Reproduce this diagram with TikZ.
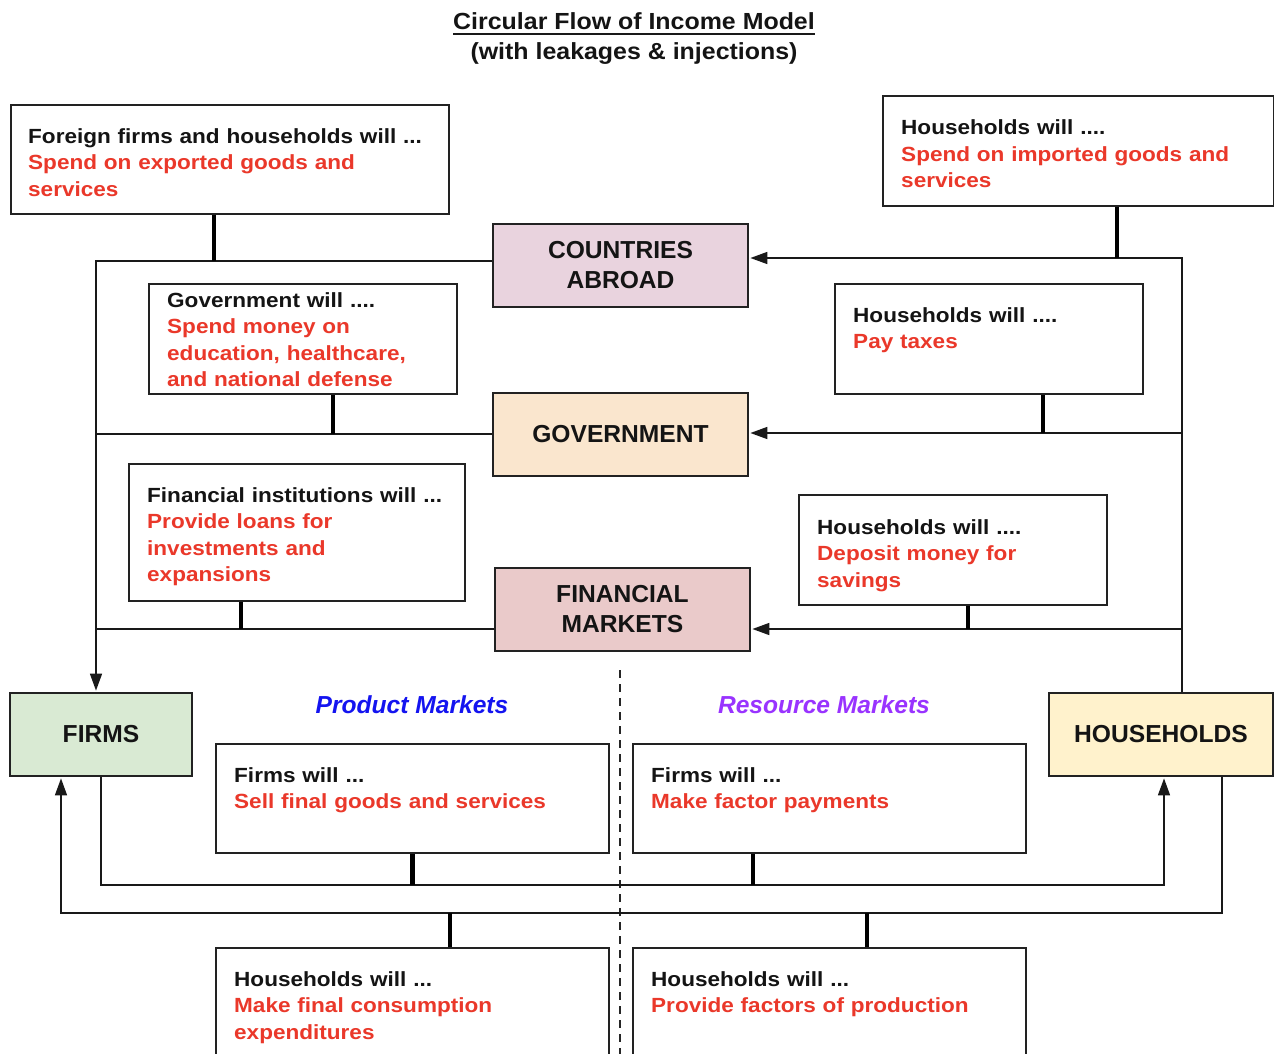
\documentclass[tikz,border=0pt]{standalone}
\usepackage{fontspec}
\setmainfont{Liberation Sans}
\newfontfamily\bodyf[FakeStretch=1.1]{Liberation Sans}
\newfontfamily\titf[FakeStretch=1.07]{Liberation Sans}
\usetikzlibrary{arrows.meta}
\definecolor{txtred}{RGB}{234,56,42}
\definecolor{pmblue}{RGB}{20,20,240}
\definecolor{rmpurple}{RGB}{153,51,255}
\definecolor{cpink}{RGB}{233,211,222}
\definecolor{gpeach}{RGB}{250,230,206}
\definecolor{frose}{RGB}{234,202,202}
\definecolor{fgreen}{RGB}{217,234,211}
\definecolor{hyellow}{RGB}{255,242,204}
\definecolor{edge}{RGB}{34,34,34}
\tikzset{
  box/.style={draw=edge, line width=1.8pt, anchor=north west, inner sep=0pt, fill=white},
  sector/.style={draw=edge, line width=1.8pt, inner sep=0pt, align=center,
    font=\bfseries\fontsize{24.6}{30}\selectfont, text=black!92},
  txt/.style={anchor=base west, inner sep=0pt, text width=420pt, align=left,
    font=\bodyf\bfseries\fontsize{20.5}{26.5}\selectfont, text=black!92},
  flow/.style={line width=1.6pt, draw=black!90},
  tip/.style={-{Triangle[length=17pt,width=12pt]}, shorten >=1.5pt},
  stub/.style={line width=4.8pt, draw=black},
  mkt/.style={font=\bfseries\itshape\fontsize{24.6}{30}\selectfont, inner sep=0pt},
  ttl/.style={inner sep=0pt, anchor=base, font=\titf\bfseries\fontsize{23.3}{30}\selectfont, text=black!92},
}
\begin{document}
\begin{tikzpicture}[x=1pt,y=-1pt]
\useasboundingbox (0,0) rectangle (1274,1054);
\fill[white] (0,0) rectangle (1274,1054);

% title
\node[ttl] (title) at (634,30) {Circular Flow of Income Model};
\node[ttl] (subtitle) at (634,60) {(with leakages \& injections)};
\draw[line width=1.5pt, black!90] ([yshift=-4pt]title.base west) -- ([yshift=-4pt]title.base east);

% text boxes
\node[box, minimum width=438, minimum height=109] (foreign) at (10,104) {};
\node[box, minimum width=391, minimum height=110] (imports) at (882,95) {};
\node[box, minimum width=308, minimum height=110] (govspend) at (148,283) {};
\node[box, minimum width=308, minimum height=110] (taxes) at (834,283) {};
\node[box, minimum width=336, minimum height=137] (loans) at (128,463) {};
\node[box, minimum width=308, minimum height=110] (deposit) at (798,494) {};
\node[box, minimum width=393, minimum height=109] (sell) at (215,743) {};
\node[box, minimum width=393, minimum height=109] (factorpay) at (632,743) {};
\node[box, minimum width=393, minimum height=115] (consume) at (215,947) {};
\node[box, minimum width=393, minimum height=115] (provide) at (632,947) {};

% sector boxes
\node[sector, fill=cpink, minimum width=255, minimum height=83] (countries) at (620.5,265.5) {COUNTRIES\\ABROAD};
\node[sector, fill=gpeach, minimum width=255, minimum height=83] (gov) at (620.5,434.5) {GOVERNMENT};
\node[sector, fill=frose, minimum width=255, minimum height=83] (finmk) at (622.5,609.5) {FINANCIAL\\MARKETS};
\node[sector, fill=fgreen, minimum width=182, minimum height=83] (firms) at (101,734.5) {FIRMS};
\node[sector, fill=hyellow, minimum width=224, minimum height=83] (hh) at (1161,734.5) {HOUSEHOLDS};

% box texts
\node[txt] (foreign-t) at (28,143) {Foreign firms and households will ...\\\color{txtred}Spend on exported goods and\\services};
\node[txt] (imports-t) at (901,135) {Households will ....\\\color{txtred}Spend on imported goods and\\services};
\node[txt] (govspend-t) at (167,307) {Government will ....\\\color{txtred}Spend money on\\education, healthcare,\\and national defense};
\node[txt] (taxes-t) at (853,322) {Households will ....\\\color{txtred}Pay taxes};
\node[txt] (loans-t) at (147,502) {Financial institutions will ...\\\color{txtred}Provide loans for\\investments and\\expansions};
\node[txt] (deposit-t) at (817,534) {Households will ....\\\color{txtred}Deposit money for\\savings};
\node[txt] (sell-t) at (234,782) {Firms will ...\\\color{txtred}Sell final goods and services};
\node[txt] (factorpay-t) at (651,782) {Firms will ...\\\color{txtred}Make factor payments};
\node[txt] (consume-t) at (234,986) {Households will ...\\\color{txtred}Make final consumption\\expenditures};
\node[txt] (provide-t) at (651,986) {Households will ...\\\color{txtred}Provide factors of production};

% market labels
\node[mkt, text=pmblue] (pm) at (412,705) {Product Markets};
\node[mkt, text=rmpurple] (rm) at (824,705) {Resource Markets};
\draw[line width=1.4pt, black!85, dash pattern=on 8pt off 6pt] (620,670) -- (620,1054);

% bus coordinates
\coordinate (cL) at (96,261);
\coordinate (gL) at (96,434);
\coordinate (fL) at (96,629);
\coordinate (cR) at (1182,258);
\coordinate (gR) at (1182,433);
\coordinate (fR) at (1182,629);
\coordinate (in1) at (101,885);
\coordinate (in2) at (1164,885);
\coordinate (out1) at (1222,913);
\coordinate (out2) at (61,913);

% connectors
\draw[flow,tip] (countries.west |- cL) -- (cL) -- (firms.north -| cL);
\draw[flow] (gov.west |- gL) -- (gL);
\draw[flow] (finmk.west |- fL) -- (fL);
\draw[flow,tip] (hh.north -| cR) -- (cR) -- (countries.east |- cR);
\draw[flow,tip] (gR) -- (gov.east |- gR);
\draw[flow,tip] (fR) -- (finmk.east |- fR);
\draw[flow,tip] (firms.south -| in1) -- (in1) -- (in2) -- (hh.south -| in2);
\draw[flow,tip] (hh.south -| out1) -- (out1) -- (out2) -- (firms.south -| out2);

% stubs
\draw[stub] ([xshift=-16pt]foreign.south) coordinate (s1) -- (s1 |- cL);
\draw[stub] ([xshift=30pt]govspend.south) coordinate (s2) -- (s2 |- gL);
\draw[stub] ([xshift=-56pt]loans.south) coordinate (s3) -- (s3 |- fL);
\draw[stub] ([xshift=38.5pt]imports.south) coordinate (s4) -- (s4 |- cR);
\draw[stub] ([xshift=54pt]taxes.south) coordinate (s5) -- (s5 |- gR);
\draw[stub] ([xshift=15pt]deposit.south) coordinate (s6) -- (s6 |- fR);
\draw[stub] (sell.south) -- (sell.south |- in1);
\draw[stub] ([xshift=-76.5pt]factorpay.south) coordinate (s7) -- (s7 |- in1);
\draw[stub] ([xshift=37.5pt]consume.north) coordinate (s8) -- (s8 |- out1);
\draw[stub] ([xshift=37.5pt]provide.north) coordinate (s9) -- (s9 |- out1);
\end{tikzpicture}
\end{document}
